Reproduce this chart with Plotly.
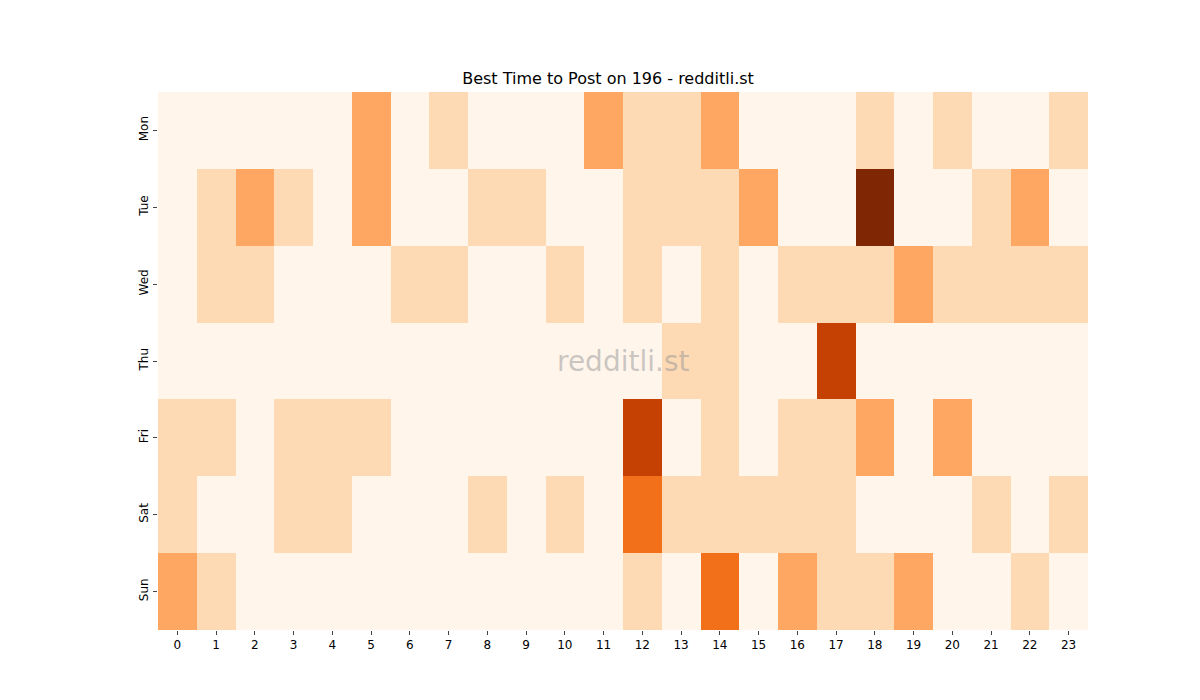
import plotly.graph_objects as go

hours = list(range(24))
days = ["Mon", "Tue", "Wed", "Thu", "Fri", "Sat", "Sun"]

# relative posting score per day/hour (0 = lowest)
mon = [0, 0, 0, 0, 0, 2, 0, 1, 0, 0, 0, 2, 1, 1, 2, 0, 0, 0, 1, 0, 1, 0, 0, 1]
tue = [0, 1, 2, 1, 0, 2, 0, 0, 1, 1, 0, 0, 1, 1, 1, 2, 0, 0, 5, 0, 0, 1, 2, 0]
wed = [0, 1, 1, 0, 0, 0, 1, 1, 0, 0, 1, 0, 1, 0, 1, 0, 1, 1, 1, 2, 1, 1, 1, 1]
thu = [0, 0, 0, 0, 0, 0, 0, 0, 0, 0, 0, 0, 0, 1, 1, 0, 0, 4, 0, 0, 0, 0, 0, 0]
fri = [1, 1, 0, 1, 1, 1, 0, 0, 0, 0, 0, 0, 4, 0, 1, 0, 1, 1, 2, 0, 2, 0, 0, 0]
sat = [1, 0, 0, 1, 1, 0, 0, 0, 1, 0, 1, 0, 3, 1, 1, 1, 1, 1, 0, 0, 0, 1, 0, 1]
sun = [2, 1, 0, 0, 0, 0, 0, 0, 0, 0, 0, 0, 1, 0, 3, 0, 2, 1, 1, 2, 0, 0, 1, 0]
z = [mon, tue, wed, thu, fri, sat, sun]

colors = ["#fff5eb", "#fdd9b4", "#fda762", "#f3701b", "#c44103", "#7f2704"]
scale = []
for i, c in enumerate(colors):
    scale.append([i / 6, c])
    scale.append([(i + 1) / 6, c])

fig = go.Figure(go.Heatmap(
    z=z, x=hours, y=days, colorscale=scale, zmin=-0.5, zmax=5.5,
    showscale=False, xgap=0, ygap=0,
))

fig.update_layout(
    width=1200, height=700,
    plot_bgcolor="white", paper_bgcolor="white",
    margin=dict(l=150, r=120, t=84, b=78),
    font=dict(family="DejaVu Sans", size=12, color="black"),
    title=dict(text="Best Time to Post on 196 - redditli.st", x=0.5, xanchor="center",
               y=1 - 70 / 700, yanchor="middle", font=dict(size=16)),
    xaxis=dict(tickmode="array", tickvals=hours, ticks="outside", ticklen=4,
               showgrid=False, zeroline=False),
    yaxis=dict(autorange="reversed", ticks="outside", ticklen=4, tickangle=-90,
               showgrid=False, zeroline=False),
)
fig.add_annotation(text="redditli.st", x=0.5, y=0.5, xref="paper", yref="paper",
                   showarrow=False, font=dict(size=28, color="rgba(150,150,150,0.5)"))

fig.write_html("out.html")
